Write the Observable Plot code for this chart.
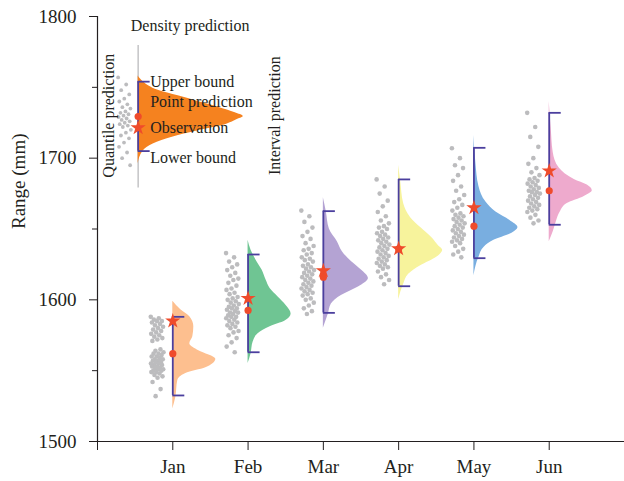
<!DOCTYPE html>
<html><head><meta charset="utf-8">
<script src="https://cdn.jsdelivr.net/npm/d3@7"></script>
<script src="https://cdn.jsdelivr.net/npm/@observablehq/plot@0.6"></script>
<style>body{margin:0;background:#fff}</style>
</head><body><div id="chart"></div>
<script>
// ---------- data ----------
const months = ["Jan", "Feb", "Mar", "Apr", "May", "Jun"];
const monthPos = [1, 2, 3, 4, 5, 6];
const lowerBound = [1532.5, 1563, 1590.8, 1609.6, 1629.4, 1653];
const upperBound = [1588, 1632, 1662.6, 1685, 1707.3, 1732];
const pointPrediction = [1562, 1592.5, 1616, 1636, 1652, 1677];
const observation = [1585, 1601, 1620.5, 1636, 1665, 1691];
const monthColors = ["#fdbf8f", "#6fc593", "#b4a3d3", "#f7f39c", "#79aee0", "#eeaacd"];

// density prediction profiles (value level, relative density)
const densityLevels = [
  [1599,1593,1588,1581,1574,1569,1564,1558,1552,1548,1543,1531,1523],
  [1642,1635,1628,1621,1614,1608,1602,1596,1590,1585,1581,1576,1570,1562,1555],
  [1672,1662,1650,1641,1634,1627,1621,1615,1609,1603,1597,1590,1580],
  [1695,1684,1668,1658,1651,1644,1638,1635,1630,1624,1618,1611,1600],
  [1716,1696,1680,1669,1662,1656,1651,1647,1642,1637,1630,1617],
  [1740,1721,1704,1693,1685,1681,1677,1673,1668,1662,1655,1648,1641]
];
const densityValues = [
  [0,8,17,21,20,17,26,43,33,13,5,3,0],
  [0,3,8,14,18,22,30,38,43,37,22,10,5,3,0],
  [0,3,6,14,19,28,38,45,35,18,8,5,0],
  [0,2,5,12,22,33,40,44,38,22,10,5,0],
  [0,2,5,12,22,36,44,38,20,10,5,0],
  [0,2,4,10,25,38,43,35,18,11,7,4,0]
];

// quantile predictions (grey dots)
const quantiles = [
  [1588,1587,1586,1585,1585,1584,1583,1582,1581,1580,1579,1578,1577,1576,1575,1574,1573,1572,1571,
   1565,1564,1563,1562,1562,1561,1560,1560,1559,1558,1558,1557,1557,1556,1556,1555,1555,1554,1554,1553,1553,
   1552,1552,1551,1551,1550,1550,1549,1549,1548,1547,1546,1545,1542,1537,1532],
  [1633,1630,1627,1625,1623,1621,1619,1617,1615,1614,1612,1610,1608,1607,1605,1604,1602,1601,1600,1599,1598,
   1597,1596,1595,1594,1594,1593,1592,1591,1591,1590,1589,1588,1588,1587,1586,1585,1584,1583,1582,1581,1580,
   1578,1577,1575,1573,1570,1567,1563],
  [1663,1659,1655,1651,1648,1645,1643,1640,1638,1636,1635,1633,1632,1630,1629,1628,1627,1625,1624,1623,1622,
   1621,1620,1619,1618,1617,1616,1615,1614,1613,1612,1611,1610,1609,1608,1607,1606,1605,1604,1603,1601,1600,
   1598,1596,1594,1592,1590],
  [1685,1680,1675,1670,1666,1662,1659,1656,1654,1652,1651,1650,1648,1647,1646,1645,1644,1643,1642,1641,1640,
   1639,1638,1637,1636,1635,1634,1633,1632,1631,1630,1629,1628,1627,1626,1625,1624,1623,1622,1620,1618,1616,
   1614,1611],
  [1707,1700,1695,1693,1688,1684,1680,1677,1674,1671,1669,1667,1665,1663,1661,1660,1659,1658,1657,1656,1655,
   1654,1653,1652,1651,1650,1649,1648,1647,1646,1645,1644,1643,1642,1641,1640,1638,1636,1634,1632,1630],
  [1732,1722,1715,1708,1700,1696,1693,1690,1688,1686,1685,1684,1683,1682,1681,1680,1679,1678,1677,1676,1676,
   1675,1674,1673,1672,1671,1670,1669,1668,1667,1666,1665,1664,1663,1662,1660,1658,1656,1654]
];

// schematic legend example
const legendPos = 0.54;
const legendColor = "#f5821f";
const legendLower = 1705, legendUpper = 1754, legendPoint = 1729.4, legendObs = 1721.4;
const legendSpine = [1679, 1779.5];
const legendLevels = [1758,1754,1748,1744,1740,1736,1732,1729.4,1727,1723,1719,1715,1710,1705,1696];
const legendDensity = [0,5,20,40,60,80,97,105,98,84,58,35,15,5,0];
const legendQuantiles = [1757,1752,1748,1745,1742,1740,1738,1736,1735,1733,1732,1731,1730,1729,1728,1727,
  1726,1725,1724,1723,1722,1720,1718,1716,1714,1711,1708,1704,1700,1695];
const legendLabels = [
  {text: "Upper bound", x: legendPos, y: 1754},
  {text: "Point prediction", x: legendPos, y: 1740},
  {text: "Observation", x: legendPos, y: 1721.4},
  {text: "Lower bound", x: legendPos, y: 1700.5}
];
const titleLabels = [
  {text: "Density prediction", x: 1.23, y: 1793.5, rotate: 0},
  {text: "Quantile prediction", x: 0.15, y: 1730, rotate: -90},
  {text: "Interval prediction", x: 2.36, y: 1730, rotate: -90}
];
const yTicks = [1500, 1600, 1700, 1800];
const yMinorTicks = [1550, 1650, 1750];
const xTicks = [0, 1, 2, 3, 4, 5, 6];

// ---------- derived tables ----------
const pxPerUnit = 75.2;           // converts pixel-like widths into x units
const dens = 1 / pxPerUnit;
const capLen = 12 / pxPerUnit;
const font = "Liberation Serif";
const ink = "#231f20";

const densityRows = [];
monthPos.forEach((m, i) => {
  densityLevels[i].forEach((v, j) => densityRows.push({m, month: months[i], v, d: densityValues[i][j]}));
});
const legendDensityRows = legendLevels.map((v, j) => ({m: legendPos, v, d: legendDensity[j]})).sort((a, b) => a.v - b.v);

const jitter = i => ((i * 0.618034) % 1) - 0.5;
const quantRows = [];
monthPos.forEach((m, i) => quantiles[i].forEach((v, j) => quantRows.push({x: m + (-15.5 + jitter(j) * 13) / pxPerUnit, v})));
const legendQuantRows = legendQuantiles.map((v, j) => ({x: legendPos + (-13.5 + jitter(j) * 13) / pxPerUnit, v}));

const intervals = monthPos.map((m, i) => ({m, lo: lowerBound[i], hi: upperBound[i], p: pointPrediction[i], o: observation[i]}));
intervals.push({m: legendPos, lo: legendLower, hi: legendUpper, p: legendPoint, o: legendObs});
const caps = intervals.flatMap(r => [{m: r.m, v: r.lo}, {m: r.m, v: r.hi}]);

const groups = d3.groups(densityRows, d => d.month);

const marks = [
  Plot.ruleX([legendPos], {y1: legendSpine[0], y2: legendSpine[1], stroke: "#c4c4c6", strokeWidth: 1.5}),
  ...groups.map(([month, rows]) => Plot.areaX(rows.slice().sort((a, b) => a.v - b.v), {
    y: "v", x1: "m", x2: d => d.m + d.d * dens, fill: monthColors[months.indexOf(month)], curve: "monotone-y"
  })),
  Plot.areaX(legendDensityRows, {y: "v", x1: "m", x2: d => d.m + d.d * dens, fill: legendColor, curve: "monotone-y"}),
  Plot.dot(quantRows, {x: "x", y: "v", r: 2.3, fill: "#bcbcbe"}),
  Plot.dot(legendQuantRows, {x: "x", y: "v", r: 1.9, fill: "#bcbcbe"}),
  Plot.ruleX(intervals, {x: "m", y1: "lo", y2: "hi", stroke: "#4b3f9e", strokeWidth: 1.8}),
  Plot.ruleY(caps, {y: "v", x1: "m", x2: d => d.m + capLen, stroke: "#4b3f9e", strokeWidth: 1.8}),
  Plot.dot(intervals, {x: "m", y: "p", r: 3.6, fill: "#ef4b2b"}),
  Plot.dot(intervals, {x: "m", y: "o", r: 4.8, symbol: "star", fill: "#ef4b2b"}),
  Plot.text(legendLabels, {x: "x", y: "y", text: "text", dx: 12, textAnchor: "start", fontSize: 16, fontFamily: font, fill: ink}),
  Plot.text(titleLabels, {x: "x", y: "y", text: "text", rotate: "rotate", fontSize: 16, fontFamily: font, fill: ink}),
  Plot.ruleX([0], {stroke: ink, strokeWidth: 1.2}),
  Plot.ruleY([1500], {stroke: ink, strokeWidth: 1.2}),
  Plot.axisY(yTicks, {tickSize: 8, tickPadding: 13, tickFormat: d => String(d), fontSize: 19, fontFamily: font, fill: ink, stroke: ink, label: null}),
  Plot.axisY(yMinorTicks, {tickSize: 5, tickFormat: () => "", stroke: ink, label: null}),
  Plot.axisX(xTicks, {tickSize: 9, tickPadding: 9, fontSize: 19, fontFamily: font, fill: ink, stroke: ink,
    tickFormat: d => d === 0 ? "" : months[d - 1], label: null}),
  Plot.text(["Range (mm)"], {frameAnchor: "left", dx: -79, rotate: -90, fontSize: 19, fontFamily: font, fill: ink})
];

const chart = Plot.plot({
  width: 624, height: 481,
  marginLeft: 97, marginRight: 0, marginTop: 16, marginBottom: 40,
  x: {domain: [0, 7]},
  y: {domain: [1500, 1800]},
  style: {fontFamily: font, background: "#fff", overflow: "visible"},
  marks
});
document.getElementById("chart").appendChild(chart);
</script>
</body></html>
